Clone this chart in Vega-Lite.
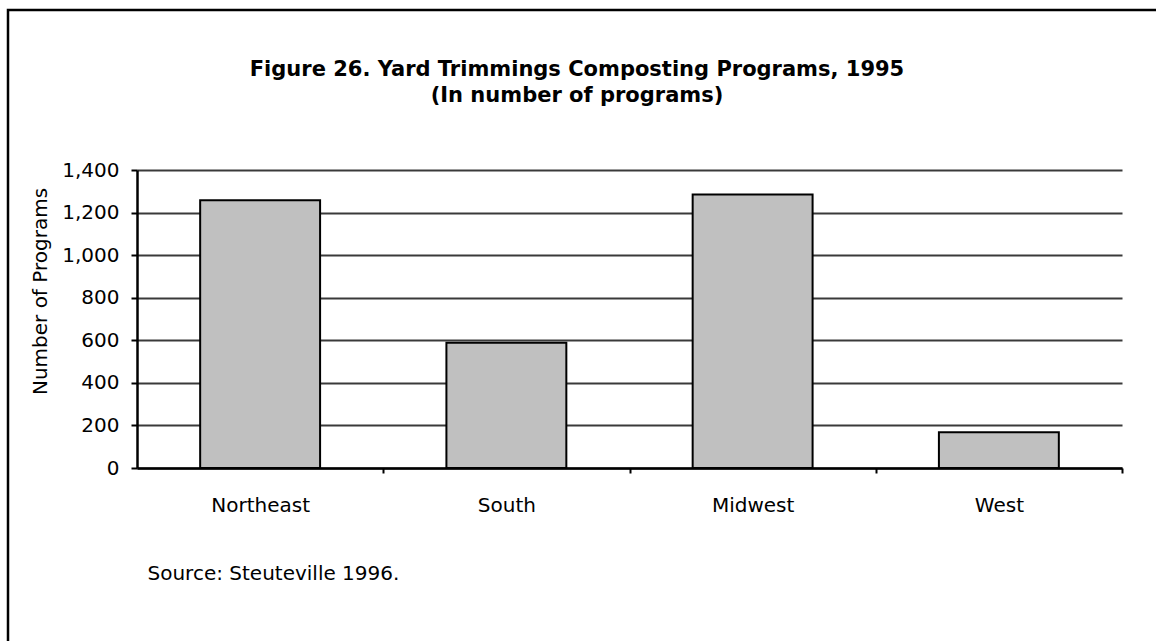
{
  "$schema": "https://vega.github.io/schema/vega-lite/v6.json",
  "width": 1160,
  "height": 640,
  "autosize": {"type": "none"},
  "padding": {"left": 8, "top": 10, "right": -12, "bottom": -9},
  "background": "white",
  "title": {
    "text": ["Figure 26. Yard Trimmings Composting Programs, 1995", "(In number of programs)"],
    "font": "DejaVu Sans",
    "fontSize": 21,
    "fontWeight": "bold",
    "color": "black",
    "lineHeight": 26,
    "anchor": "middle",
    "frame": "group",
    "baseline": "top",
    "offset": -96,
    "dx": -11
  },
  "data": {
    "values": [
      {"region": "Northeast", "programs": 1258},
      {"region": "South", "programs": 588},
      {"region": "Midwest", "programs": 1285},
      {"region": "West", "programs": 168}
    ]
  },
  "mark": {"type": "bar", "fill": "#c0c0c0", "stroke": "black", "strokeWidth": 2},
  "encoding": {
    "x": {
      "field": "region",
      "type": "nominal",
      "sort": null,
      "scale": {"range": [129, 1114], "paddingInner": 0.513, "paddingOuter": 0.2565},
      "axis": {
        "orient": "bottom",
        "offset": -182,
        "title": "Source: Steuteville 1996.",
        "titleX": 139,
        "titleY": 111,
        "titleAlign": "left",
        "titleBaseline": "alphabetic",
        "titleFont": "DejaVu Sans",
        "titleFontSize": 20,
        "titleFontWeight": "normal",
        "titleColor": "black",
        "labelAngle": 0,
        "labelFont": "DejaVu Sans",
        "labelFontSize": 20,
        "labelColor": "black",
        "labelPadding": 22,
        "tickOffset": 123.125,
        "labelOffset": -123.125,
        "tickSize": 5,
        "tickColor": "black",
        "tickWidth": 2,
        "domainColor": "black",
        "domainWidth": 2.5,
        "grid": false
      }
    },
    "y": {
      "field": "programs",
      "type": "quantitative",
      "scale": {"domain": [0, 1400], "range": [458, 160], "nice": false},
      "axis": {
        "orient": "left",
        "offset": -129,
        "values": [0, 200, 400, 600, 800, 1000, 1200, 1400],
        "format": ",d",
        "title": "Number of Programs",
        "titleX": -97,
        "titleY": 281,
        "titleAngle": -90,
        "titleAlign": "center",
        "titleBaseline": "middle",
        "titleFont": "DejaVu Sans",
        "titleFontSize": 20,
        "titleFontWeight": "normal",
        "titleColor": "black",
        "labelFont": "DejaVu Sans",
        "labelFontSize": 20,
        "labelColor": "black",
        "labelPadding": 12,
        "tickSize": 6,
        "tickColor": "black",
        "tickWidth": 2,
        "domainColor": "black",
        "domainWidth": 2.5,
        "grid": true,
        "gridColor": "#3a3a3a",
        "gridWidth": 2
      }
    }
  },
  "config": {
    "view": {"stroke": "black", "strokeWidth": 2.5}
  }
}
